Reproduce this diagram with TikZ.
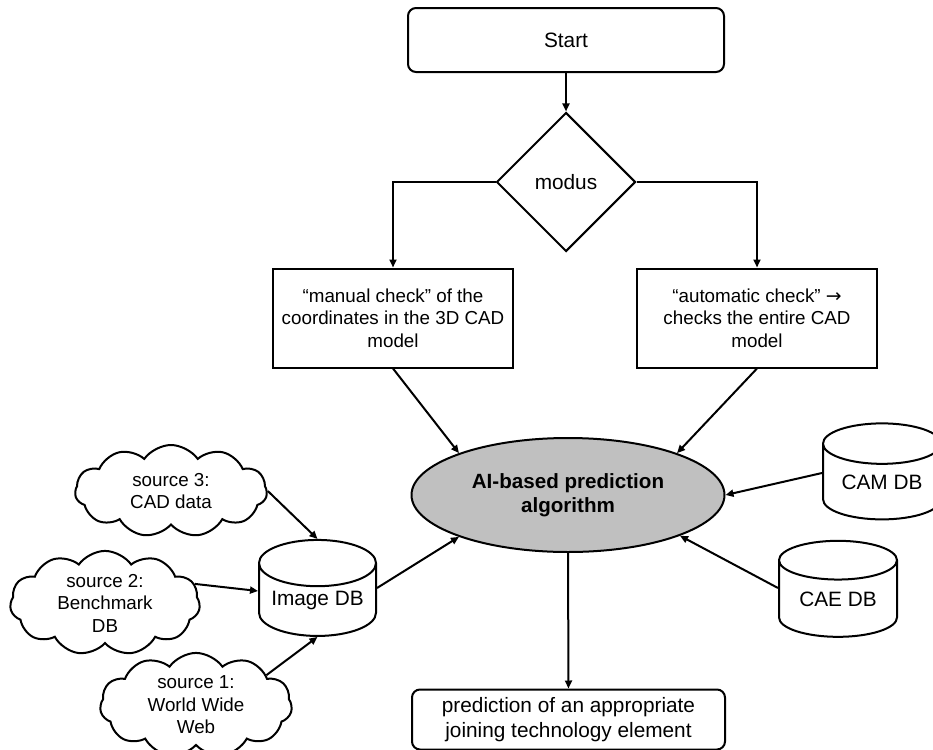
\documentclass[tikz,border=0pt]{standalone}
\usepackage{fontspec}
\setmainfont{Liberation Sans}
\newfontfamily\arrowfont{DejaVu Sans}
\usetikzlibrary{shapes.geometric,shapes.symbols,arrows.meta}
\definecolor{algfill}{RGB}{192,192,192}

\tikzset{
  every node/.style={font=\fontsize{10.4pt}{12.5pt}\selectfont,align=center,line width=1pt,inner sep=0pt},
  small/.style={font=\fontsize{9.4pt}{11.25pt}\selectfont},
  flow/.style={line width=1pt,-{Triangle[length=4pt,width=3.5pt]}},
  startbox/.style={draw,rounded corners=4pt},
  checkbox/.style={draw,small,minimum width=120pt,minimum height=49.5pt},
  dbase/.style={draw,cylinder,shape border rotate=90,aspect=0.5},
  source/.style={draw,small,cloud,cloud puffs=11,cloud puff arc=110,aspect=2.1},
}

\begin{document}
\begin{tikzpicture}[x=0.5pt,y=-0.5pt]
  \useasboundingbox (0,0) rectangle (933,750);

  % flow chart
  \node (start) at (566,40) [startbox,minimum width=158pt,minimum height=32pt] {Start};
  \node (modus) at (566,182) [draw,diamond,minimum width=69.5pt,minimum height=69.5pt] {modus};
  \node (manual) at (393,318) [checkbox] {“manual check” of the\\coordinates in the 3D CAD\\model};
  \node (auto) at (757,318) [checkbox] {“automatic check” {\arrowfont →}\\checks the entire CAD\\model};
  \node (alg) at (568,495) [draw,ellipse,fill=algfill,minimum width=156.5pt,minimum height=57pt,
        font=\fontsize{10.3pt}{12pt}\selectfont\bfseries] {AI-based prediction\\algorithm};
  \node (pred) at (568.5,719.5) [startbox,minimum width=156.5pt,minimum height=30pt] {prediction of an appropriate\\joining technology element};

  % data bases
  \node (imgdb) at (317.5,600) [dbase,minimum width=58.5pt,minimum height=48pt] {Image DB};
  \node (cam) at (882,482) [dbase,minimum width=59pt,minimum height=48pt] {CAM DB};
  \node (cae) at (838,599) [dbase,minimum width=59pt,minimum height=48pt] {CAE DB};

  % sources
  \node (src3) at (171,491) [source,minimum width=96pt,minimum height=46pt] {source 3:\\CAD data};
  \node (src2) at (105,603) [source,minimum width=95pt,minimum height=43.5pt] {source 2:\\Benchmark\\DB};
  \node (src1) at (196,705) [source,minimum width=96pt,minimum height=44pt] {source 1:\\World Wide\\Web};

  \draw[flow] (start) -- (modus);
  \draw[flow] (modus.west) -| (manual.north);
  \draw[flow] (modus.east) -| (auto.north);
  \draw[flow] (manual.south) -- (alg.159);
  \draw[flow] (auto.south) -- (alg.21);
  \draw[flow] ([yshift=4.5pt]cam.west) -- (alg.east);
  \draw[flow] ([yshift=5.5pt]cae.west) -- (alg.340);
  \draw[flow] ([yshift=6pt]imgdb.east) -- (alg.201);
  \draw[flow] (alg.south) -- (pred.north);
  \draw[flow] (src3.east) -- (imgdb.north);
  \draw[flow] (src2.12) -- ([yshift=4.5pt]imgdb.west);
  \draw[flow] (src1.23) -- (imgdb.south);
\end{tikzpicture}
\end{document}
